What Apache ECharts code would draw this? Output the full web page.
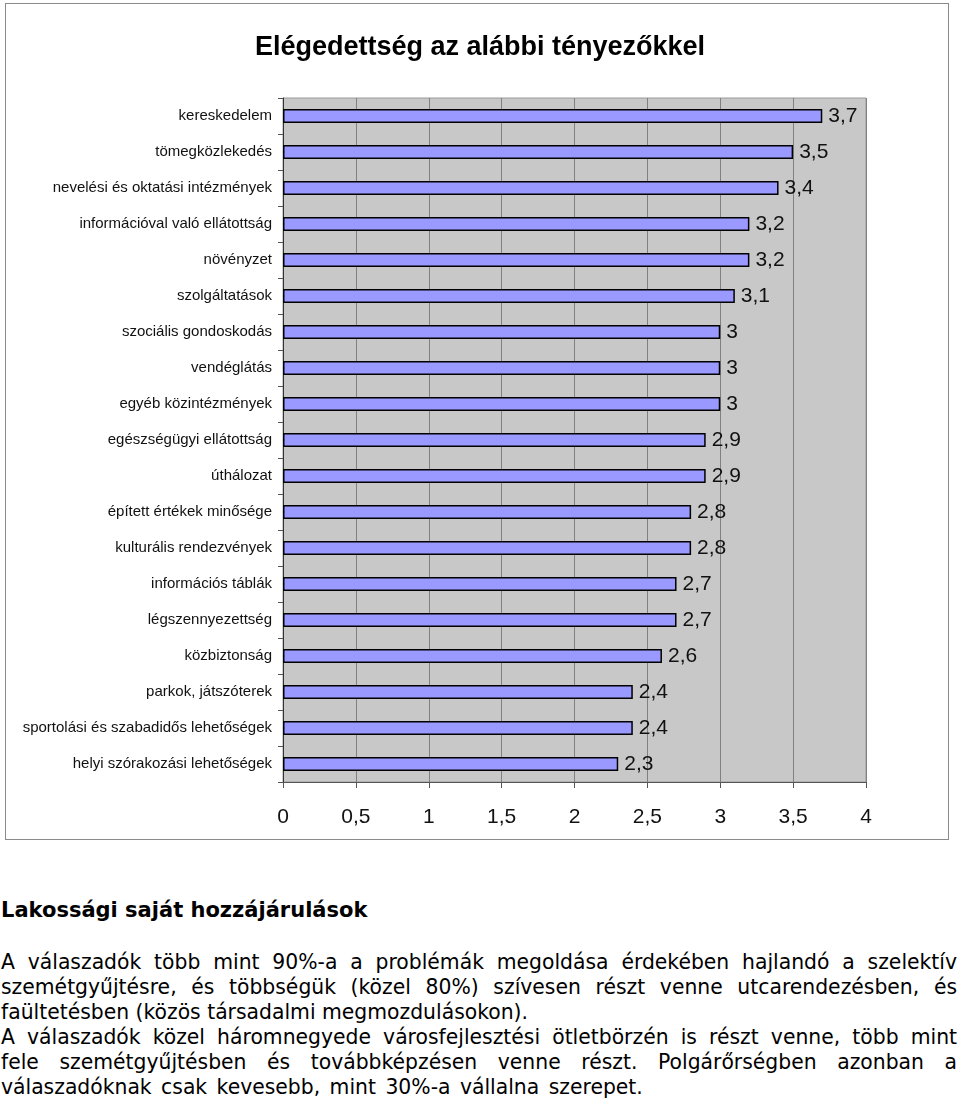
<!DOCTYPE html>
<html>
<head>
<meta charset="utf-8">
<script src="https://cdn.jsdelivr.net/npm/echarts@6/dist/echarts.min.js"></script>
<style>
  html, body { margin: 0; padding: 0; background: #fff; }
  body { width: 960px; height: 1102px; position: relative; overflow: hidden; }
  #frame { position: absolute; left: 5px; top: 3px; width: 942px; height: 835px; border: 1px solid #8a8a8a; box-sizing: content-box; }
  #chart { position: absolute; left: 0; top: 0; width: 960px; height: 845px; }
  .txt { position: absolute; left: 1px; width: 956px; font-family: "DejaVu Sans", Verdana, sans-serif; font-size: 20.35px; line-height: 25px; color: #000; }
  .h { font-weight: bold; font-size: 21px; top: 898px; }
  .ln { white-space: nowrap; text-align: justify; text-align-last: justify; }
  .last { text-align: left; text-align-last: left; }
</style>
</head>
<body>
<div id="frame"></div>
<div id="chart"></div>
<div class="txt h">Lakossági saját hozzájárulások</div>
<div class="txt" style="top:950px">
  <div class="ln">A válaszadók több mint 90%-a a problémák megoldása érdekében hajlandó a szelektív</div>
  <div class="ln">szemétgyűjtésre, és többségük (közel 80%) szívesen részt venne utcarendezésben, és</div>
  <div class="ln last">faültetésben (közös társadalmi megmozdulásokon).</div>
  <div class="ln">A válaszadók közel háromnegyede városfejlesztési ötletbörzén is részt venne, több mint</div>
  <div class="ln">fele szemétgyűjtésben és továbbképzésen venne részt. Polgárőrségben azonban a</div>
  <div class="ln last" style="word-spacing:3px">válaszadóknak csak kevesebb, mint 30%-a vállalna szerepet.</div>
</div>
<script>
const categories = [
  "kereskedelem",
  "tömegközlekedés",
  "nevelési és oktatási intézmények",
  "információval való ellátottság",
  "növényzet",
  "szolgáltatások",
  "szociális gondoskodás",
  "vendéglátás",
  "egyéb közintézmények",
  "egészségügyi ellátottság",
  "úthálozat",
  "épített értékek minősége",
  "kulturális rendezvények",
  "információs táblák",
  "légszennyezettség",
  "közbiztonság",
  "parkok, játszóterek",
  "sportolási és szabadidős lehetőségek",
  "helyi szórakozási lehetőségek"
];
const values = [3.7, 3.5, 3.4, 3.2, 3.2, 3.1, 3, 3, 3, 2.9, 2.9, 2.8, 2.8, 2.7, 2.7, 2.6, 2.4, 2.4, 2.3];
const titleText = "Elégedettség az alábbi tényezőkkel";
const axisMin = 0, axisMax = 4, axisStep = 0.5;

const FONT = "'Liberation Sans', Arial, sans-serif";
const fmt = v => String(v).replace('.', ',');
const chart = echarts.init(document.getElementById('chart'));
chart.setOption({
  animation: false,
  title: {
    text: titleText,
    left: 'center',
    top: 29,
    textStyle: { fontFamily: FONT, fontSize: 27, fontWeight: 'bold', color: '#000' }
  },
  grid: {
    left: 283, right: 94, top: 98, height: 684,
    show: true, backgroundColor: '#c8c8c8', borderColor: '#9a9a9a', borderWidth: 1
  },
  xAxis: {
    type: 'value', min: axisMin, max: axisMax, interval: axisStep,
    axisLine: { show: true, lineStyle: { color: '#555', width: 1 } },
    axisTick: { show: true, length: 6, lineStyle: { color: '#555' } },
    splitLine: { show: true, lineStyle: { color: '#808080', width: 1 } },
    axisLabel: { fontFamily: FONT, fontSize: 21, color: '#111', margin: 25, formatter: fmt }
  },
  yAxis: {
    type: 'category', inverse: true, data: categories,
    axisLine: { show: true, lineStyle: { color: '#333', width: 1 } },
    axisTick: { show: true, length: 5, alignWithLabel: false, lineStyle: { color: '#555' } },
    axisLabel: { fontFamily: FONT, fontSize: 15, color: '#111', margin: 11 }
  },
  series: [{
    type: 'bar',
    data: values,
    barWidth: 14,
    itemStyle: { color: '#9999ff', borderColor: '#000', borderWidth: 1.5 },
    label: {
      show: true, position: 'right', distance: 6,
      fontFamily: FONT, fontSize: 21, color: '#111',
      formatter: p => fmt(p.value)
    }
  }]
});
</script>
</body>
</html>
